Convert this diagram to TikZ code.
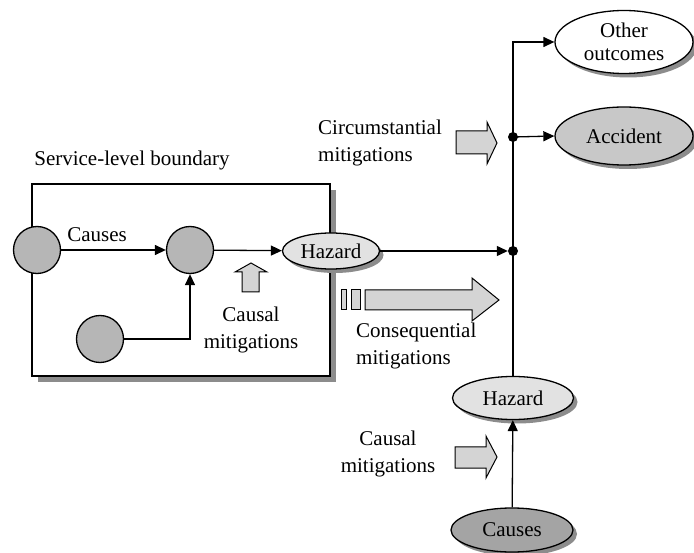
\documentclass[tikz,border=0pt]{standalone}
\usepackage{fontspec}
\setmainfont{Liberation Serif}
\usetikzlibrary{arrows.meta,shapes.geometric,shadows}
\definecolor{circfill}{HTML}{B6B6B6}
\definecolor{hazfill}{HTML}{E2E2E2}
\definecolor{accfill}{HTML}{C8C8C8}
\definecolor{causefill}{HTML}{A4A4A4}
\definecolor{blockfill}{HTML}{D4D4D4}
\definecolor{shadowgray}{HTML}{8C8C8C}
\begin{document}
\begin{tikzpicture}[x=1pt,y=-1pt,
  every node/.style={font=\fontsize{21}{27}\selectfont},
  shade4/.style={drop shadow={shadow xshift=4pt,shadow yshift=-4pt,fill=shadowgray,opacity=1}},
  cnode/.style={circle,draw,line width=1.3pt,fill=circfill,minimum size=47pt,inner sep=0pt},
  oval/.style={ellipse,draw,line width=1.3pt,inner sep=0pt,align=center,shade4},
  dot/.style={circle,fill=black,minimum size=10pt,inner sep=0pt},
  conn/.style={line width=1.3pt,-{Triangle[length=11pt,width=10pt]}},
  wire/.style={line width=1.3pt},
  blockarrow/.style={draw,line width=1pt,fill=blockfill},
  lbl/.style={inner sep=0pt}]
\useasboundingbox (0,0) rectangle (694,553);

% service-level boundary with its shadow
\node[draw,line width=1.3pt,fill=white,minimum width=298pt,minimum height=192pt,inner sep=0pt,
  drop shadow={shadow xshift=6pt,shadow yshift=-6pt,fill=shadowgray,opacity=1}] (box) at (181,280) {};
\node[lbl] (boxlbl) at (132,160) {Service-level boundary};

% causes inside the boundary
\node[cnode] (c1) at (37,250) {};
\node[cnode] (c2) at (190,250) {};
\node[cnode] (c3) at (100,339) {};
\node[lbl] (causeslbl) at (97,235) {Causes};

% hazards, outcomes and causes outside
\node[oval,fill=hazfill,minimum width=97pt,minimum height=36pt] (hz1) at (331,251) {Hazard};
\node[oval,fill=white,minimum width=138pt,minimum height=63pt] (oth) at (624,42) {Other\\[-4pt]outcomes};
\node[oval,fill=accfill,minimum width=138pt,minimum height=58pt] (acc) at (624,136) {Accident};
\node[oval,fill=hazfill,minimum width=121pt,minimum height=43pt] (hz2) at (513,398) {Hazard};
\node[oval,fill=causefill,minimum width=122pt,minimum height=44pt] (cs2) at (512,530) {Causes};

% junctions
\node[dot] (j1) at (513,251) {};
\node[dot] (j2) at (513,137) {};

% connectors
\draw[conn] (c1) -- (c2);
\draw[conn] (c3.east) -| (c2.south);
\draw[conn] (c2) -- (hz1);
\draw[conn] (hz1) -- (j1.west);
\draw[wire] (hz2.north) -- (j1.center) -- (j2.center);
\draw[conn] (j2.center) |- (oth.west);
\draw[conn] (j2.center) -- (acc.west);
\draw[conn] (cs2) -- (hz2);

% mitigation block arrows
\draw[blockarrow] (242,292) -- (242,272) -- (235,272) -- (251,263) -- (267,272) -- (259,272) -- (259,292) -- cycle;
\draw[blockarrow] (456,131) -- (487,131) -- (487,122) -- (497,143) -- (487,164) -- (487,154) -- (456,154) -- cycle;
\draw[blockarrow] (455,447) -- (486,447) -- (486,436) -- (497,457) -- (486,478) -- (486,468) -- (455,468) -- cycle;
\draw[blockarrow] (341,290) rectangle (346,310);
\draw[blockarrow] (351,290) rectangle (360,310);
\draw[blockarrow] (365,290) -- (472,290) -- (472,278) -- (499,300) -- (472,321) -- (472,310) -- (365,310) -- cycle;

% mitigation labels
\node[lbl,align=center] (causal1) at (251,330) {Causal\\mitigations};
\node[lbl,align=left,anchor=west] (circ) at (318,143) {Circumstantial\\mitigations};
\node[lbl,align=left,anchor=west] (conseq) at (356,346) {Consequential\\mitigations};
\node[lbl,align=center] (causal2) at (388,454) {Causal\\mitigations};
\end{tikzpicture}
\end{document}
